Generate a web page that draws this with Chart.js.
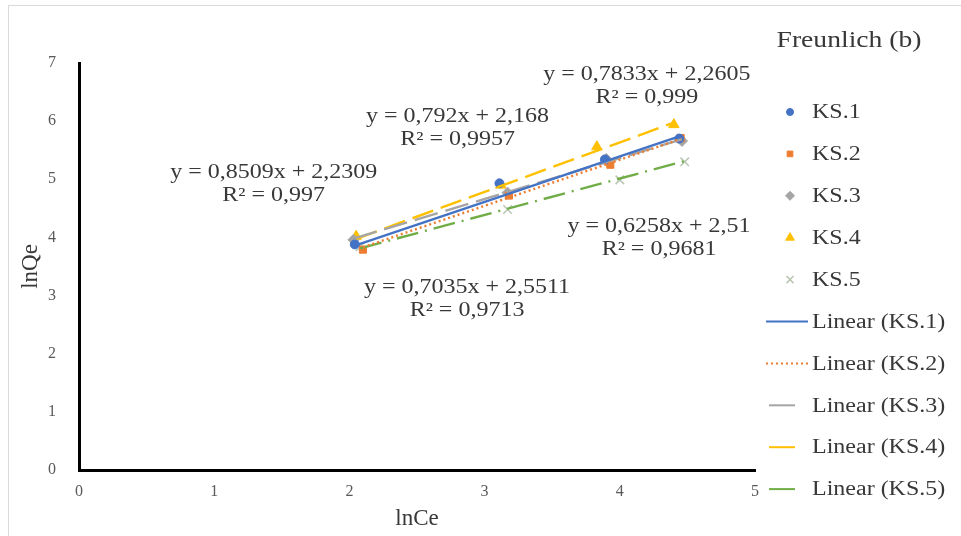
<!DOCTYPE html>
<html>
<head>
<meta charset="utf-8">
<script src="https://cdn.jsdelivr.net/npm/chart.js@4/dist/chart.umd.min.js"></script>
<style>
  html, body { margin: 0; padding: 0; background: #fff; }
  #wrap { position: relative; width: 961px; height: 536px; }
  canvas { display: block; }
</style>
</head>
<body>
<div id="wrap"><canvas id="c" width="961" height="536"></canvas></div>
<script>
// ---- data ----
const seriesNames = ['KS.1', 'KS.2', 'KS.3', 'KS.4', 'KS.5'];
const ks1X = [2.04, 3.11, 3.89, 4.44];
const ks1Y = [3.88, 4.93, 5.34, 5.70];
const ks2X = [2.10, 3.18, 3.93, 4.45];
const ks2Y = [3.79, 4.72, 5.25, 5.71];
const ks3X = [2.03, 3.17, 3.90, 4.46];
const ks3Y = [3.96, 4.77, 5.35, 5.66];
const ks4X = [2.05, 3.12, 3.83, 4.40];
const ks4Y = [4.02, 4.90, 5.56, 5.94];
const ks5X = [2.08, 3.17, 4.00, 4.48];
const ks5Y = [3.84, 4.48, 4.99, 5.30];
// trendline equations shown on the chart
const slopes = [0.7833, 0.792, 0.7035, 0.8509, 0.6258];
const intercepts = [2.2605, 2.168, 2.5511, 2.2309, 2.51];
const eqTexts = ['y = 0,7833x + 2,2605', 'y = 0,792x + 2,168', 'y = 0,7035x + 2,5511', 'y = 0,8509x + 2,2309', 'y = 0,6258x + 2,51'];
const r2Texts = ['R² = 0,999', 'R² = 0,9957', 'R² = 0,9713', 'R² = 0,997', 'R² = 0,9681'];
const xTicks = [0, 1, 2, 3, 4, 5];
const yTicks = [0, 1, 2, 3, 4, 5, 6, 7];

const xs = [ks1X, ks2X, ks3X, ks4X, ks5X];
const ys = [ks1Y, ks2Y, ks3Y, ks4Y, ks5Y];

// ---- styles ----
const colors = ['#4472C4', '#ED7D31', '#A5A5A5', '#FFC000', '#70AD47'];
const markerColors = ['#4472C4', '#ED7D31', '#A5A5A5', '#FFC000', '#b9c6b2'];
const pointStyles = ['circle', 'rect', 'rectRot', 'triangle', 'crossRot'];
const pointRadii = [4.5, 5, 5.5, 6, 6];
const dashes = [[], [2, 3], [24, 8], [22, 8], [22, 7, 2, 7]];
const legendDashes = [[], [2, 3], [26, 30], [26, 30], [26, 30]];
const SERIF = '"Liberation Serif", "Times New Roman", serif';
const TXT = '#383838';
const STRETCH = 1.2;

const datasets = [];
seriesNames.forEach((n, i) => {
  datasets.push({
    label: n,
    data: xs[i].map((x, k) => ({ x: x, y: ys[i][k] })),
    showLine: false,
    pointStyle: pointStyles[i],
    pointRadius: pointRadii[i],
    backgroundColor: markerColors[i],
    borderColor: markerColors[i],
    borderWidth: i === 4 ? 1.5 : 1,
    order: 2
  });
});
seriesNames.forEach((n, i) => {
  const x0 = Math.min(...xs[i]), x1 = Math.max(...xs[i]);
  datasets.push({
    label: 'Linear (' + n + ')',
    data: [{ x: x0, y: slopes[i] * x0 + intercepts[i] }, { x: x1, y: slopes[i] * x1 + intercepts[i] }],
    showLine: true,
    pointRadius: 0,
    borderColor: colors[i],
    borderWidth: 2.4,
    borderDash: dashes[i],
    fill: false,
    order: 1
  });
});

// label anchors (data units) for the equations
const labelAnchors = [[4.20, 6.80], [2.80, 6.07], [2.87, 3.13], [1.44, 5.11], [4.29, 4.18]];

function sText(ctx, text, x, y, align, sx) {
  ctx.save();
  ctx.translate(x, y);
  ctx.scale(sx, 1);
  ctx.textAlign = align;
  ctx.fillText(text, 0, 0);
  ctx.restore();
}

const decor = {
  id: 'decor',
  beforeDraw(chart) {
    const ctx = chart.ctx;
    ctx.save();
    ctx.fillStyle = '#fff';
    ctx.fillRect(0, 0, chart.width, chart.height);
    ctx.strokeStyle = '#d9d9d9';
    ctx.lineWidth = 1;
    ctx.strokeRect(8.5, 5.5, chart.width - 8, chart.height);
    ctx.restore();
  },
  afterDraw(chart) {
    const ctx = chart.ctx;
    const xs_ = chart.scales.x, ys_ = chart.scales.y;
    ctx.save();
    // equations
    ctx.font = '20px ' + SERIF;
    ctx.fillStyle = TXT;
    ctx.textBaseline = 'middle';
    labelAnchors.forEach((a, i) => {
      const px = xs_.getPixelForValue(a[0]);
      const py = ys_.getPixelForValue(a[1]);
      sText(ctx, eqTexts[i], px, py, 'center', STRETCH);
      sText(ctx, r2Texts[i], px, py + 23, 'center', STRETCH);
    });
    // legend
    ctx.font = '23px ' + SERIF;
    sText(ctx, 'Freunlich (b)', 849, 41, 'center', STRETCH);
    ctx.font = '20px ' + SERIF;
    const top = 112, step = 41.9;
    seriesNames.forEach((n, i) => {
      const y = top + step * i;
      ctx.save();
      ctx.fillStyle = markerColors[i];
      ctx.strokeStyle = markerColors[i];
      ctx.lineWidth = i === 4 ? 1.5 : 1;
      Chart.helpers.drawPoint(ctx, { pointStyle: pointStyles[i], radius: pointRadii[i] - 1, borderWidth: 1 }, 790, y);
      ctx.restore();
      ctx.fillStyle = TXT;
      sText(ctx, n, 812, y + 1, 'left', STRETCH);
    });
    seriesNames.forEach((n, i) => {
      const y = top + step * (5 + i);
      ctx.save();
      ctx.strokeStyle = colors[i];
      ctx.lineWidth = 2;
      ctx.setLineDash(legendDashes[i]);
      ctx.beginPath();
      ctx.moveTo(i >= 2 ? 769 : 766, y);
      ctx.lineTo(808, y);
      ctx.stroke();
      ctx.restore();
      ctx.fillStyle = TXT;
      sText(ctx, 'Linear (' + n + ')', 812, y + 1, 'left', STRETCH);
    });
    ctx.restore();
  }
};

new Chart(document.getElementById('c'), {
  type: 'scatter',
  data: { datasets: datasets },
  options: {
    responsive: false,
    animation: false,
    layout: { padding: { left: 0, right: 206, top: 63, bottom: 0 } },
    plugins: { legend: { display: false }, tooltip: { enabled: false } },
    scales: {
      x: {
        type: 'linear', min: 0, max: 5,
        afterBuildTicks(s) { s.ticks = xTicks.map(v => ({ value: v })); },
        afterFit(s) { s.height = 66; },
        grid: { display: false, drawTicks: false },
        border: { display: true, color: '#000', width: 3 },
        ticks: { color: '#595959', padding: 12, font: { family: SERIF, size: 16 } },
        title: { display: true, text: 'lnCe', color: TXT, font: { family: SERIF, size: 23 }, padding: { top: 0, bottom: 3 } }
      },
      y: {
        type: 'linear', min: 0, max: 7,
        afterBuildTicks(s) { s.ticks = yTicks.map(v => ({ value: v })); },
        afterFit(s) { s.width = 79; },
        grid: { display: false, drawTicks: false },
        border: { display: true, color: '#000', width: 3 },
        ticks: { color: '#595959', padding: 23, font: { family: SERIF, size: 16 } },
        title: { display: true, text: 'lnQe', color: TXT, font: { family: SERIF, size: 23 }, padding: { top: 17, bottom: 0 } }
      }
    }
  },
  plugins: [decor]
});
</script>
</body>
</html>
